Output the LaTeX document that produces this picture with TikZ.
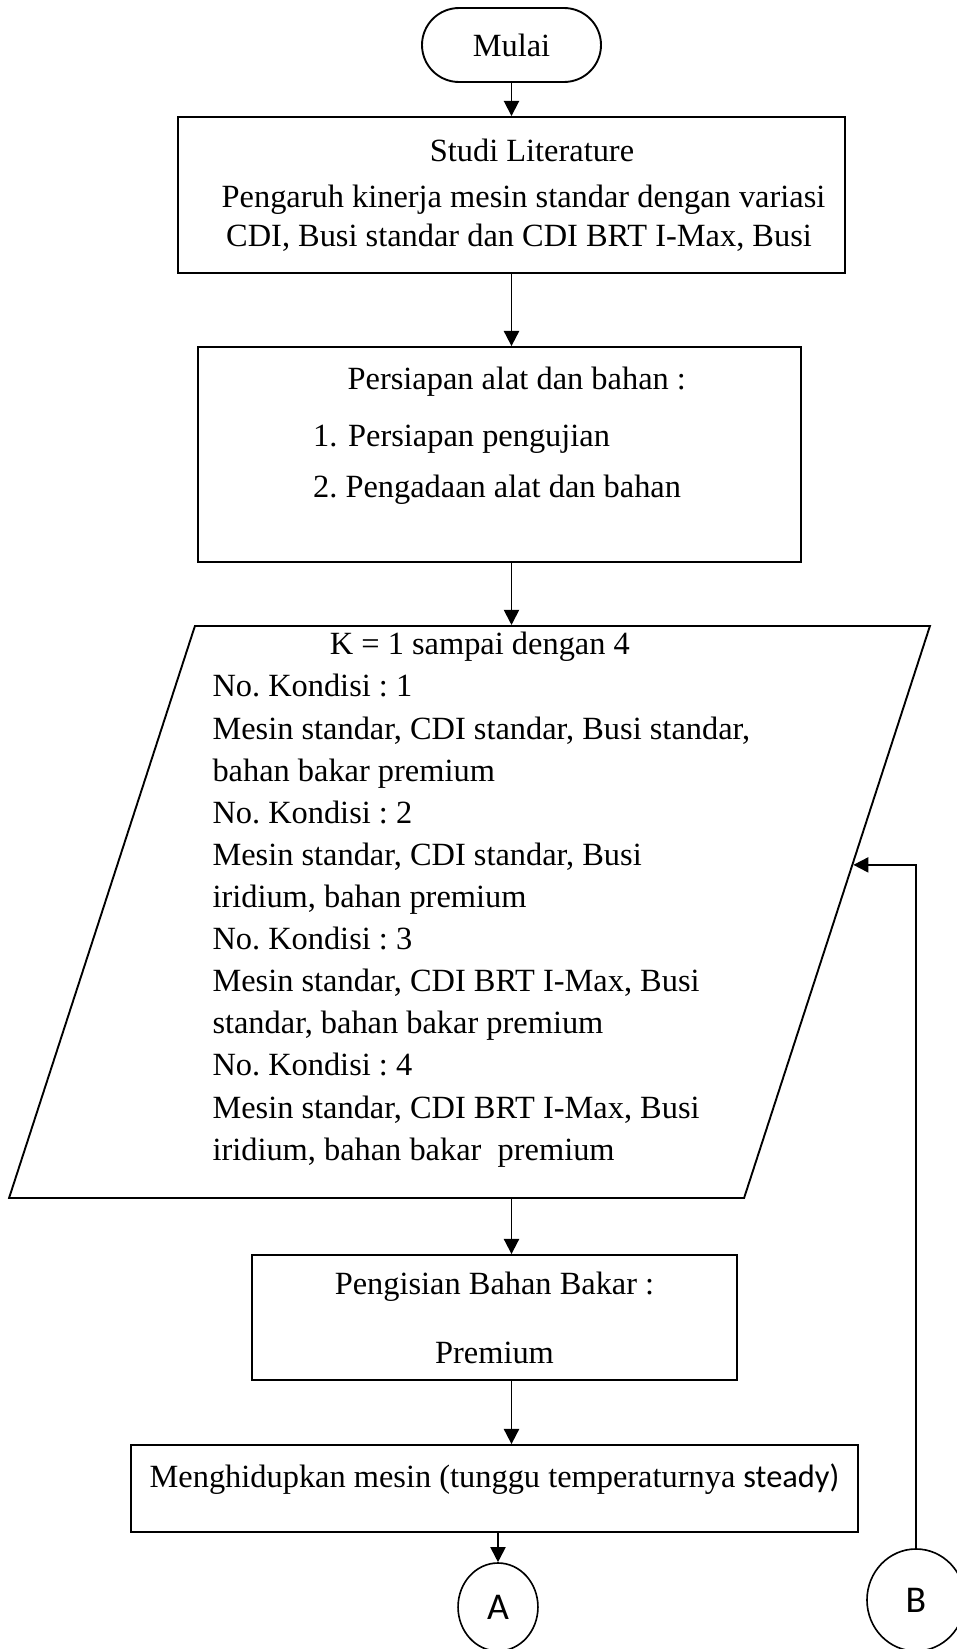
\documentclass[tikz,border=0pt]{standalone}
\usepackage{fontspec}
\setmainfont{Liberation Serif}
\newfontfamily\calibri{Carlito}
\usetikzlibrary{shapes.geometric,arrows.meta}
\frenchspacing
\begin{document}
\begin{tikzpicture}[x=0.3704pt,y=-0.3704pt,
  font=\fontsize{12}{15.6}\selectfont,
  kotak/.style={draw, rectangle, inner sep=0pt, line width=0.7pt},
  panah/.style={-{Triangle[length=5.6pt,width=5.6pt]}, line width=0.7pt},
  bulat/.style={draw, ellipse, inner sep=0pt, line width=0.6pt, font=\fontsize{14}{16}\calibri}]
\useasboundingbox (0,0) rectangle (956,1649);
\node[kotak, rounded corners=13.7pt, minimum width=66.3pt, minimum height=27.4pt] (mulai) at (511.5,45){Mulai};
\node[kotak, align=center, minimum width=247.1pt, minimum height=57.8pt] (studi) at (511.5,195){\hspace*{15.2pt}Studi Literature\\[1.4pt]\hspace*{8.9pt}Pengaruh kinerja mesin standar dengan variasi\\[-1.2pt]\hspace*{5.6pt}CDI, Busi standar dan CDI BRT I-Max, Busi};
\node[kotak, align=left, minimum width=223.4pt, minimum height=79.6pt] (persiapan) at (499.5,454.5){\hspace*{12.8pt}Persiapan alat dan bahan :\\[5.5pt]1.\hspace{4pt}Persiapan pengujian\\[3.3pt]2. Pengadaan alat dan bahan\\[1pt]\mbox{}};
\node[draw, trapezium, trapezium left angle=72, trapezium right angle=108, trapezium stretches body, inner sep=0pt, line width=0.7pt, minimum width=341.1pt, minimum height=211.9pt] (kondisi) at (469.5,912){\rule[-105.95pt]{0pt}{211.9pt}\makebox[0pt]{\smash{\begin{tabular}{@{\hspace{8.8pt}}l@{}}
\hspace*{43.5pt}K = 1 sampai dengan 4\\
No. Kondisi : 1\\
Mesin standar, CDI standar, Busi standar,\\
bahan bakar premium\\
No. Kondisi : 2\\
Mesin standar, CDI standar, Busi\\
iridium, bahan premium\\
No. Kondisi : 3\\
Mesin standar, CDI BRT I-Max, Busi\\
standar, bahan bakar premium\\
No. Kondisi : 4\\
Mesin standar, CDI BRT I-Max, Busi\\
iridium, bahan bakar\ \ premium\\[3.6pt]
\end{tabular}}}};
\node[kotak, align=center, minimum width=179.6pt, minimum height=46.3pt] (pengisian) at (494.5,1317.5){Pengisian Bahan Bakar :\\[10pt]Premium};
\node[kotak, align=center, minimum width=269.3pt, minimum height=32.2pt] (mesin) at (494.5,1488.5){Menghidupkan mesin (tunggu temperaturnya {\calibri steady)}\\[-6pt]\mbox{}};
\node[bulat, minimum width=29.6pt, minimum height=32.6pt] (A) at (498,1607){A};
\node[bulat, minimum width=36.3pt, minimum height=37.8pt] (B) at (916,1600){B};
\draw[panah] (mulai) -- (studi);
\draw[panah] (studi.south) -- (studi.south |- persiapan.north);
\draw[panah] (studi.south |- persiapan.south) -- (studi.south |- kondisi.north);
\draw[panah] (studi.south |- kondisi.south) -- (studi.south |- pengisian.north);
\draw[panah] (studi.south |- pengisian.south) -- (studi.south |- mesin.north);
\draw[panah] (A.north |- mesin.south) -- (A.north);
\draw[panah] (B.north) |- (kondisi.7);
\end{tikzpicture}
\end{document}
